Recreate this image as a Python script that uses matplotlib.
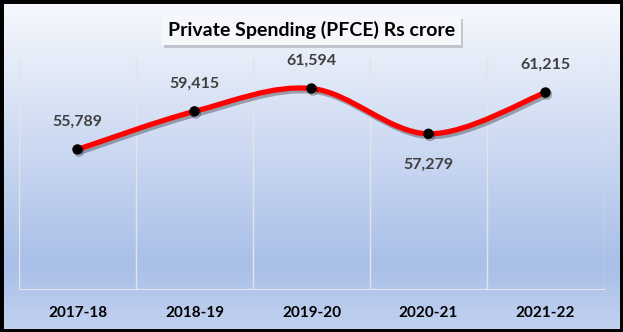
import numpy as np
import matplotlib
matplotlib.use('Agg')
import matplotlib.pyplot as plt
import matplotlib.patheffects as pe
from matplotlib.colors import LinearSegmentedColormap
from matplotlib.path import Path
from matplotlib.patches import PathPatch, Rectangle

years = ['2017-18', '2018-19', '2019-20', '2020-21', '2021-22']
spending = [55789, 59415, 61594, 57279, 61215]
title = 'Private Spending (PFCE) Rs crore'

plt.rcParams['font.family'] = ['Lato', 'DejaVu Sans']

fig = plt.figure(figsize=(6.23, 3.32), dpi=100)

# gradient background
bg = fig.add_axes([0, 0, 1, 1], zorder=0)
cmap = LinearSegmentedColormap.from_list(
    'bg', [(0, '#f7f9fd'), (0.8, '#a9bfe8'), (1, '#c3d2f0')])
bg.imshow(np.linspace(0, 1, 256).reshape(-1, 1), aspect='auto', cmap=cmap,
          extent=[0, 1, 0, 1], origin='upper')
bg.add_patch(Rectangle((0, 0), 1, 1, transform=bg.transAxes, fill=False,
                       edgecolor='black', linewidth=5))
bg.set_xlim(0, 1)
bg.set_ylim(0, 1)
bg.axis('off')

ax = fig.add_axes([19 / 623, 43 / 332, 585 / 623, 231 / 332], zorder=1)
ax.patch.set_alpha(0)
x = np.arange(len(years))
y = np.array(spending, dtype=float)

# smoothed line (catmull-rom as bezier segments, like excel's smooth line)
pts = np.column_stack([x, y])
ext = np.vstack([pts[0], pts, pts[-1]])
verts = [tuple(pts[0])]
codes = [Path.MOVETO]
for i in range(len(pts) - 1):
    p0, p1, p2, p3 = ext[i], ext[i + 1], ext[i + 2], ext[i + 3]
    c1 = p1 + (p2 - p0) / 6
    c2 = p2 - (p3 - p1) / 6
    verts += [tuple(c1), tuple(c2), tuple(p2)]
    codes += [Path.CURVE4] * 3
line = PathPatch(Path(verts, codes), facecolor='none', edgecolor='#ff0000',
                 linewidth=3.8, capstyle='round', zorder=3)
line.set_path_effects([pe.SimpleLineShadow(offset=(1.5, -2), shadow_color='black',
                                           alpha=0.3),
                       pe.Normal()])
ax.add_patch(line)
ax.plot(x, y, 'o', color='black', markersize=6.5, zorder=4,
        path_effects=[pe.SimpleLineShadow(offset=(1, -1.5), alpha=0.3), pe.Normal()])

for i, v in enumerate(spending):
    dy = -22 if i == 3 else 20
    ax.annotate(f'{v:,}', (x[i], v), xytext=(0, dy), textcoords='offset points',
                ha='center', va='center', fontsize=11.5, fontweight='bold',
                color='#404040', zorder=5)

ax.set_xlim(-0.5, 4.5)
ax.set_ylim(42500, 64500)
ax.set_xticks(x)
ax.set_xticklabels(years, fontsize=11, fontweight='bold', color='black')
ax.tick_params(axis='x', length=0, pad=12)
ax.set_yticks([])
for b in np.arange(-0.5, 5, 1):
    ax.axvline(b, color='#e2e4ea', linewidth=1, zorder=1)
for s in ['top', 'right', 'left']:
    ax.spines[s].set_visible(False)
ax.spines['bottom'].set_color('#e2e4ea')

t = fig.text(0.5, 1 - 30 / 332, title, ha='center', va='center', fontsize=14,
             fontweight='bold', color='black', zorder=6,
             bbox=dict(boxstyle='square,pad=0.3', facecolor='#f5f7fb',
                       edgecolor='none'))
t.get_bbox_patch().set_path_effects(
    [pe.SimplePatchShadow(offset=(1.5, -2.5), alpha=0.25), pe.Normal()])

fig.savefig('out.png', dpi=100)
